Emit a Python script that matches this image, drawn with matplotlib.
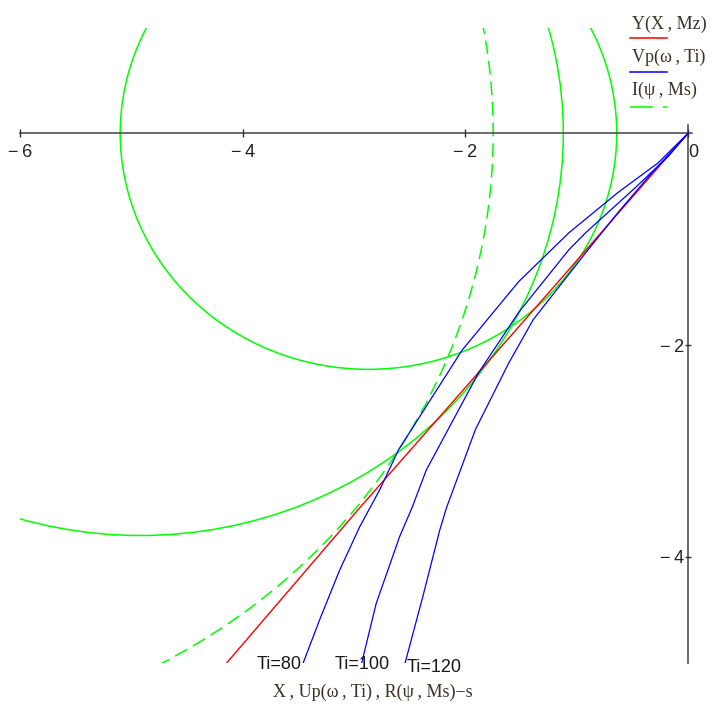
import numpy as np
import matplotlib.pyplot as plt
from matplotlib.patches import Circle
from matplotlib.lines import Line2D

# Y(X,Mz) - red line
red_x = [0.0, -1.23, -2.95, -4.14]
red_y = [0.0, -1.48, -3.54, -5.0]

# Vp(w,Ti) vs Up(w,Ti), three values of Ti
ti_vals = [80, 100, 120]
blue_x = [
    [0.0, -0.27, -0.63, -1.07, -1.52, -2.03, -2.60, -2.77, -2.95, -3.13, -3.31, -3.455],
    [0.0, -0.18, -0.47, -0.92, -1.07, -1.52, -1.88, -2.35, -2.48, -2.59, -2.80, -2.93],
    [0.0, -0.33, -0.63, -0.92, -1.39, -1.61, -1.91, -2.17, -2.23, -2.38, -2.54],
]
blue_y = [
    [0.0, -0.28, -0.56, -0.94, -1.40, -2.05, -2.99, -3.37, -3.72, -4.13, -4.60, -5.0],
    [0.0, -0.22, -0.51, -0.94, -1.10, -1.69, -2.26, -3.18, -3.54, -3.81, -4.44, -5.0],
    [0.0, -0.38, -0.75, -1.13, -1.76, -2.17, -2.80, -3.54, -3.75, -4.37, -5.0],
]

# green circles (centre x, radius), centres on y = 0
circ_cx = [-2.87, -4.92]
circ_r = [2.23, 3.80]
# dashed circle I(psi,Ms)
dash_cx = -7.45
dash_r = 5.70

xticks = [-6, -4, -2, 0]
xtick_lab = ['\u2212\u20096', '\u2212\u20094', '\u2212\u20092', '0']
yticks = [-4, -2]
ytick_lab = ['\u2212\u20094', '\u2212\u20092']

txt_col = '#3b3326'
fig = plt.figure(figsize=(7.16, 7.04), dpi=100)
ax = fig.add_axes([20/716, 41.5/704, 675.8/716, 635/704])
ax.set_xlim(-6, 0.07)
ax.set_ylim(-5, 1.0)

for cx, r in zip(circ_cx, circ_r):
    ax.add_patch(Circle((cx, 0), r, fill=False, ec='#00ff00', lw=1.1))
ax.add_patch(Circle((dash_cx, 0), dash_r, fill=False, ec='#00ff00', lw=1.1,
                    ls=(0, (9, 4.5))))

ax.plot(red_x, red_y, color='#ff0000', lw=1.0)
for bx, by in zip(blue_x, blue_y):
    ax.plot(bx, by, color='#0000ff', lw=0.9)

# axes crossing at origin
for s in ['top', 'right']:
    ax.spines[s].set_visible(False)
ax.spines['bottom'].set_position(('data', 0))
ax.spines['left'].set_position(('data', 0))
ax.spines['bottom'].set_bounds(-6, 0.04)
ax.spines['left'].set_bounds(-5, 0.08)
for s in ['bottom', 'left']:
    ax.spines[s].set_color('#505050')
    ax.spines[s].set_linewidth(1.2)
    ax.spines[s].set_zorder(1)
ax.set_xticks(xticks)
ax.set_xticklabels(xtick_lab, family='Liberation Sans', fontsize=13, color='#222222')
ax.set_yticks(yticks)
ax.set_yticklabels(ytick_lab, family='Liberation Sans', fontsize=13, color='#222222')
ax.tick_params(axis='x', direction='inout', length=6, width=1.0, color='#303030', pad=5)
ax.tick_params(axis='y', direction='inout', length=5, width=1.0, color='#303030', pad=0)
ax.get_xticklabels()[-1].set_ha('left')

# Ti labels at the ends of the blue curves
ti_pos = [(-3.676, -5.02), (-2.928, -5.02), (-2.279, -5.045)]
for t, (px, py) in zip(ti_vals, ti_pos):
    ax.text(px, py, 'Ti=%d' % t, family='Liberation Sans', fontsize=13,
            color='#1a1a1a', ha='center', va='center')

fig.text(372.5/716, 1 - 692/704,
         'X\u2009, Up(\u03c9\u2009, Ti)\u2009, R(\u03c8\u2009, Ms)\u2212s',
         family='Liberation Serif', fontsize=13, color=txt_col, ha='center', va='center')

# legend, Mathcad style: name above a line sample
leg_txt = ['Y(X\u2009, Mz)', 'Vp(\u03c9\u2009, Ti)', 'I(\u03c8\u2009, Ms)']
leg_ty = [24, 57, 90]
leg_ly = [38, 72, 107]
leg_col = ['#ff0000', '#0000ff', '#00ff00']
for i in range(3):
    fig.text(632/716, 1 - leg_ty[i]/704, leg_txt[i], family='Liberation Serif',
             fontsize=13, color=txt_col, ha='left', va='center')
    ln = Line2D([630/716, 667/716], [1 - leg_ly[i]/704] * 2, transform=fig.transFigure,
                color=leg_col[i], lw=1.1)
    if i == 2:
        ln.set_dashes([15, 6.5, 4.3, 6.5])
    fig.add_artist(ln)

fig.savefig('out.png', dpi=100)
